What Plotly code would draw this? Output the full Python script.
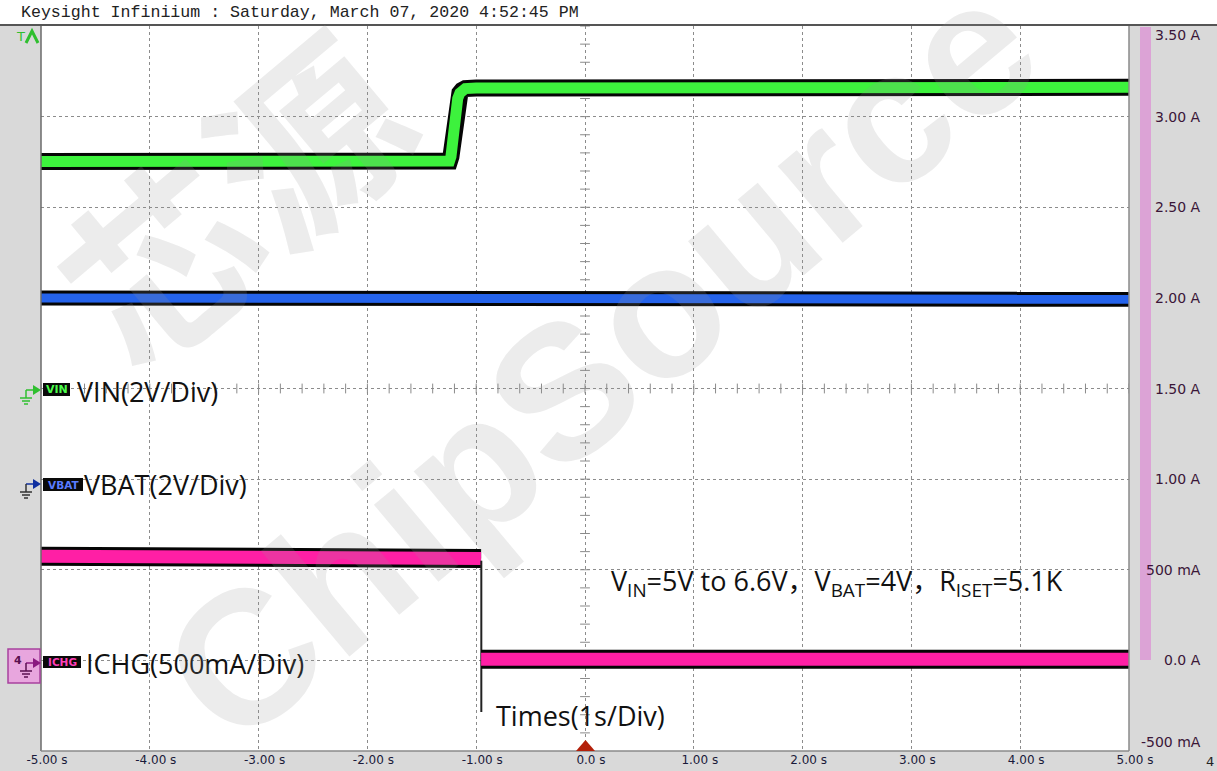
import numpy as np
import plotly.graph_objects as go

# ---------------- data ----------------
time_ticks = [-5, -4, -3, -2, -1, 0, 1, 2, 3, 4, 5]
time_labels = ["-5.00 s", "-4.00 s", "-3.00 s", "-2.00 s", "-1.00 s", "0.0 s",
               "1.00 s", "2.00 s", "3.00 s", "4.00 s", "5.00 s"]
amp_ticks = [3.5, 3.0, 2.5, 2.0, 1.5, 1.0, 0.5, 0.0, -0.5]
amp_labels = ["3.50 A", "3.00 A", "2.50 A", "2.00 A", "1.50 A", "1.00 A",
              "500 mA", "0.0 A", "-500 mA"]

vin_t = [-5.0, -1.245, -1.232, -1.222, -1.212, -1.2, -1.185, -1.17, -1.15, -1.13, -1.10, -1.0, 5.0]
vin_y = [2.752, 2.755, 2.78, 2.84, 2.92, 3.00, 3.06, 3.10, 3.13, 3.145, 3.155, 3.158, 3.162]
vbat_t = [-5.0, -1.0, -0.95, 5.0]
vbat_y = [2.0, 2.0, 1.992, 1.992]
ichg_before_t = [-5.0, -1.05, -0.975, -0.955]
ichg_before_y = [0.575, 0.575, 0.566, 0.562]
ichg_after_t = [-0.955, 5.0]
ichg_after_y = [0.006, 0.006]
spike_t = [-0.953, -0.953]
spike_y = [0.55, -0.285]

# ---------------- layout helpers ----------------
W, H = 1217, 771
PL, PR, PT, PB = 41, 1129, 26, 751
PW, PH = PR - PL, PB - PT


def X(px):
    return (px - PL) / PW


def Y(py):
    return (PB - py) / PH


GRAY = "#d9d9d9"
GREEN = "#3df23d"
BLUE = "#2563eb"
PINK = "#ff1fa5"

fig = go.Figure()


def band(t, y, color, wb, wc, name):
    fig.add_trace(go.Scatter(x=t, y=y, mode="lines", line=dict(color="#050505", width=wb),
                             hoverinfo="skip", showlegend=False))
    fig.add_trace(go.Scatter(x=t, y=y, mode="lines", line=dict(color=color, width=wc),
                             name=name, showlegend=False))


# centre graticule minor ticks
cx = np.arange(-5, 5.0001, 0.2)
fig.add_trace(go.Scatter(x=cx, y=[1.5] * len(cx), mode="markers",
                         marker=dict(symbol="line-ns", size=7, line=dict(color="#8a8a8a", width=1)),
                         hoverinfo="skip", showlegend=False))
cy = np.arange(-0.5, 3.5001, 0.1)
fig.add_trace(go.Scatter(x=[0] * len(cy), y=cy, mode="markers",
                         marker=dict(symbol="line-ew", size=7, line=dict(color="#8a8a8a", width=1)),
                         hoverinfo="skip", showlegend=False))

band(vin_t, vin_y, GREEN, 17, 11, "VIN")
band(vbat_t, vbat_y, BLUE, 15, 9, "VBAT")
band(ichg_before_t, ichg_before_y, PINK, 19, 13, "ICHG")
fig.add_trace(go.Scatter(x=spike_t, y=spike_y, mode="lines", line=dict(color="#222", width=2),
                         hoverinfo="skip", showlegend=False))
band(ichg_after_t, ichg_after_y, PINK, 19, 13, "ICHG")

shapes = []
# header
shapes.append(dict(type="rect", xref="paper", yref="paper", x0=X(0), x1=X(W), y0=Y(25), y1=Y(0),
                   fillcolor="white", line=dict(width=0), layer="below"))
shapes.append(dict(type="line", xref="paper", yref="paper", x0=X(0), x1=X(W), y0=Y(25), y1=Y(25),
                   line=dict(color="#555555", width=2), layer="above"))
# pink strip on right
shapes.append(dict(type="rect", xref="paper", yref="paper", x0=X(1140), x1=X(1151), y0=Y(660), y1=Y(27),
                   fillcolor="#dca3d6", line=dict(width=0), layer="below"))
# plot borders
shapes.append(dict(type="line", xref="paper", yref="paper", x0=0, x1=0, y0=0, y1=1,
                   line=dict(color="#6a6a6a", width=1.5), layer="above"))
shapes.append(dict(type="line", xref="paper", yref="paper", x0=1, x1=1, y0=0, y1=1,
                   line=dict(color="#8a8a8a", width=1.5), layer="above"))
shapes.append(dict(type="line", xref="paper", yref="paper", x0=0, x1=1, y0=0, y1=0,
                   line=dict(color="#8a8a8a", width=1.5), layer="above"))

# trigger marker
shapes.append(dict(type="path", xref="paper", yref="paper",
                   path=f"M {X(576)},{Y(751)} L {X(585.5)},{Y(740)} L {X(595)},{Y(751)} Z",
                   fillcolor="#b3200a", line=dict(width=0), layer="above"))

# T chevron
shapes.append(dict(type="path", xref="paper", yref="paper",
                   path=f"M {X(26)},{Y(43)} L {X(32)},{Y(31)} L {X(38)},{Y(43)}",
                   line=dict(color="#2fbf2f", width=3), layer="above"))

# channel tag boxes
tags = [("VIN", 43, 70, 383, 396, "#4cff4c", 11),
        ("VBAT", 43, 83, 478, 491, "#5a7cff", 10.5),
        ("ICHG", 43, 81, 656, 668, "#ff3fb8", 10.5)]
for _, x0, x1, y0, y1, _c, _s in tags:
    shapes.append(dict(type="rect", xref="paper", yref="paper", x0=X(x0), x1=X(x1), y0=Y(y1), y1=Y(y0),
                       fillcolor="#0a0a0a", line=dict(width=0), layer="above"))

# ICHG rounded pink icon
shapes.append(dict(type="rect", xref="paper", yref="paper", x0=X(8), x1=X(40), y0=Y(683), y1=Y(649),
                   fillcolor="#e8a6de", line=dict(color="#a8429e", width=1.5), layer="above"))


def icon(yc, arrow_col, ground_col):
    s = []
    s.append(dict(type="path", xref="paper", yref="paper",
                  path=f"M {X(33)},{Y(yc-5)} L {X(41)},{Y(yc)} L {X(33)},{Y(yc+5)} Z",
                  fillcolor=arrow_col, line=dict(width=0), layer="above"))
    s.append(dict(type="line", xref="paper", yref="paper", x0=X(26), x1=X(33), y0=Y(yc), y1=Y(yc),
                  line=dict(color=arrow_col, width=1.5), layer="above"))
    s.append(dict(type="line", xref="paper", yref="paper", x0=X(26), x1=X(26), y0=Y(yc), y1=Y(yc + 8),
                  line=dict(color=ground_col, width=1.5), layer="above"))
    for dy, hw in [(8, 6), (11, 4), (14, 2)]:
        s.append(dict(type="line", xref="paper", yref="paper", x0=X(26 - hw), x1=X(26 + hw),
                      y0=Y(yc + dy), y1=Y(yc + dy), line=dict(color=ground_col, width=1.5), layer="above"))
    return s


shapes += icon(390, "#2fbf2f", "#2fbf2f")
shapes += icon(484, "#1030a0", "#333333")
shapes += icon(663, "#8a1a80", "#5a1050")

annotations = []
# header text
annotations.append(dict(x=X(19), y=Y(12), xref="paper", yref="paper", xanchor="left", yanchor="middle",
                        text="Keysight Infiniium : Saturday, March 07, 2020 4:52:45 PM", showarrow=False,
                        font=dict(family="Liberation Mono", size=16.6, color="#222222")))
annotations.append(dict(x=X(20), y=Y(37), xref="paper", yref="paper", xanchor="center", yanchor="middle",
                        text="T", showarrow=False, font=dict(family="DejaVu Sans", size=13, color="#2fbf2f")))

# right amplitude labels
for v, lab in zip(amp_ticks, amp_labels):
    shift = 0
    if v == 3.5:
        shift = -9
    if v == -0.5:
        shift = 9
    annotations.append(dict(x=X(1203), y=v, xref="paper", yref="y", xanchor="right", yanchor="middle",
                            yshift=shift, text=lab, showarrow=False,
                            font=dict(family="DejaVu Sans", size=14, color="#3a1638")))
annotations.append(dict(x=X(1210), y=Y(761), xref="paper", yref="paper", xanchor="center", yanchor="middle",
                        text="4", showarrow=False, font=dict(family="DejaVu Sans", size=13, color="#222")))

# tag texts
for txt, x0, x1, y0, y1, c, s in tags:
    annotations.append(dict(x=X((x0 + x1) / 2), y=Y((y0 + y1) / 2), xref="paper", yref="paper",
                            xanchor="center", yanchor="middle", text=f"<b>{txt}</b>", showarrow=False,
                            font=dict(family="DejaVu Sans", size=s, color=c)))
annotations.append(dict(x=X(18), y=Y(660), xref="paper", yref="paper", xanchor="center", yanchor="middle",
                        text="<b>4</b>", showarrow=False, font=dict(family="DejaVu Sans", size=11, color="#5a1050")))

BIG = dict(family="Open Sans, Noto Sans CJK SC", size=27, color="#111111")
for txt, xl, yc in [("VIN(2V/Div)", 75, 391), ("VBAT(2V/Div)", 82, 484),
                    ("ICHG(500mA/Div)", 84, 663), ("Times(1s/Div)", 494, 715)]:
    annotations.append(dict(x=X(xl), y=Y(yc), xref="paper", yref="paper", xanchor="left", yanchor="middle",
                            text=txt, showarrow=False, font=BIG))
annotations.append(dict(x=X(609), y=Y(582), xref="paper", yref="paper", xanchor="left", yanchor="middle",
                        text="V<sub>IN</sub>=5V to 6.6V，V<sub>BAT</sub>=4V，R<sub>ISET</sub>=5.1K",
                        showarrow=False, font=BIG))

# watermark
annotations.append(dict(x=X(600), y=Y(360), xref="paper", yref="paper", xanchor="center", yanchor="middle",
                        text="<b>ChipSource</b>", textangle=-40, showarrow=False,
                        font=dict(family="Liberation Sans", size=190, color="rgba(150,150,150,0.18)")))
annotations.append(dict(x=X(230), y=Y(195), xref="paper", yref="paper", xanchor="center", yanchor="middle",
                        text="<b>芯源</b>", textangle=-40, showarrow=False,
                        font=dict(family="Noto Sans CJK SC", size=190, color="rgba(150,150,150,0.18)")))

fig.update_layout(
    width=W, height=H,
    margin=dict(l=PL, r=W - PR, t=PT, b=H - PB, pad=0, autoexpand=False),
    paper_bgcolor=GRAY, plot_bgcolor="white",
    shapes=shapes, annotations=annotations,
    showlegend=False,
    xaxis=dict(range=[-5, 5], tickvals=time_ticks, ticktext=time_labels, showgrid=True,
               gridcolor="#8c8c8c", griddash="dot", gridwidth=1, zeroline=False, showline=False,
               ticks="", ticklabelshift=6, ticklabelstandoff=0, automargin=False,
               tickfont=dict(family="DejaVu Sans", size=12, color="#1a1a3a"), fixedrange=True),
    yaxis=dict(range=[-0.5, 3.5], tickvals=amp_ticks, showticklabels=False, showgrid=True,
               gridcolor="#8c8c8c", griddash="dot", gridwidth=1, zeroline=False, showline=False,
               ticks="", side="right", automargin=False, fixedrange=True),
)

fig.write_html("out.html", config={"displayModeBar": False},
               post_script="document.body.style.margin='0px';document.body.style.overflow='hidden';")
